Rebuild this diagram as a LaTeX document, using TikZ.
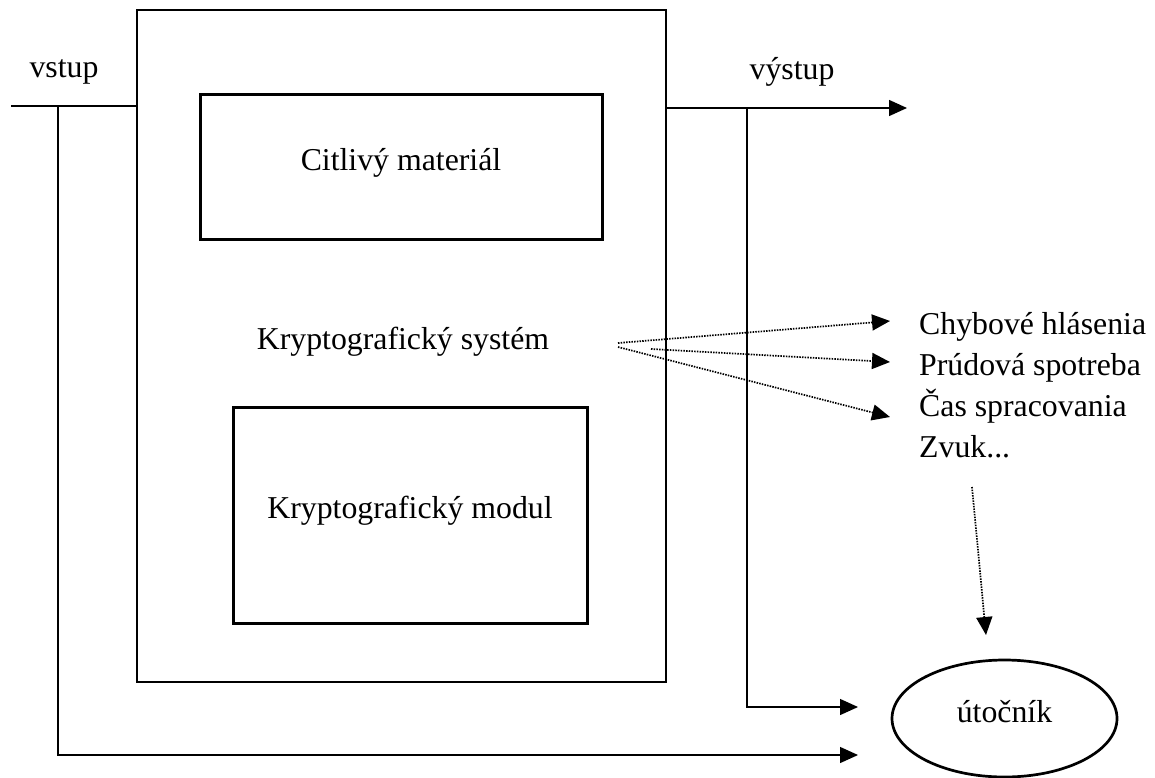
\documentclass[tikz,border=0pt]{standalone}
\usepackage{fontspec}
\setmainfont{Liberation Serif}
\usetikzlibrary{arrows.meta,shapes.geometric}
\begin{document}
\begin{tikzpicture}[x=1pt,y=-1pt,
  every node/.style={font=\fontsize{31.8}{38}\selectfont},
  box/.style={draw,line width=3pt,inner sep=0pt,text height=22pt,text depth=14.5pt},
  outerbox/.style={draw,line width=2pt,inner sep=0pt},
  conn/.style={line width=1.4pt},
  arr/.style={conn,-{Triangle[length=18pt,width=16pt]}},
  dotarr/.style={line width=1.7pt,dash pattern=on 1.5pt off 1.2pt,-{Triangle[length=18pt,width=16pt]}},
  lbl/.style={inner sep=0pt}
]
\useasboundingbox (0,0) rectangle (1155,778);
% boxes
\node[outerbox,minimum width=529pt,minimum height=672pt] (outer) at (401.5,346) {};
\node[box,minimum width=402pt,minimum height=144pt] (cit) at (401,167) {Citlivý materiál};
\node[box,minimum width=354pt,minimum height=216pt] (mod) at (410,515) {Kryptografický modul};
\node[lbl,anchor=base] (sys) at (403,349) {Kryptografický systém};
\node[lbl,anchor=base] (vstup) at (64,78) {vstup};
\node[lbl,anchor=base] (vystup) at (792,80) {výstup};
\node[ellipse,draw,line width=2.7pt,minimum width=225pt,minimum height=117pt,inner sep=0pt,text height=22pt,text depth=14.5pt] (att) at (1004.5,718.5) {útočník};
% side labels
\node[lbl,anchor=base west] (l1) at (919,334) {Chybové hlásenia};
\node[lbl,anchor=base west] (l2) at (919,375) {Prúdová spotreba};
\node[lbl,anchor=base west] (l3) at (919,416) {Čas spracovania};
\node[lbl,anchor=base west] (l4) at (919,457) {Zvuk...};
% coordinates
\coordinate (vin) at (11,106);
\coordinate (vsplit) at (58,106);
\coordinate (a1) at (858,755);
\coordinate (vout) at (907,108);
\coordinate (osplit) at (747,108);
\coordinate (a2) at (858,707);
\coordinate (s1) at (618,343);
\coordinate (s2) at (651,349);
\coordinate (s3) at (618,347);
\coordinate (t1) at (890,321);
\coordinate (t2) at (890,362);
\coordinate (t3) at (890,417);
\coordinate (d1) at (972,487);
\coordinate (d2) at (986,635);
% connectors
\draw[conn] (vin) -- (vin -| outer.west);
\draw[arr] (vsplit) |- (a1);
\draw[arr] (vout -| outer.east) -- (vout);
\draw[arr] (osplit) |- (a2);
\draw[dotarr] (s1) -- (t1);
\draw[dotarr] (s2) -- (t2);
\draw[dotarr] (s3) -- (t3);
\draw[dotarr] (d1) -- (d2);
\end{tikzpicture}
\end{document}
